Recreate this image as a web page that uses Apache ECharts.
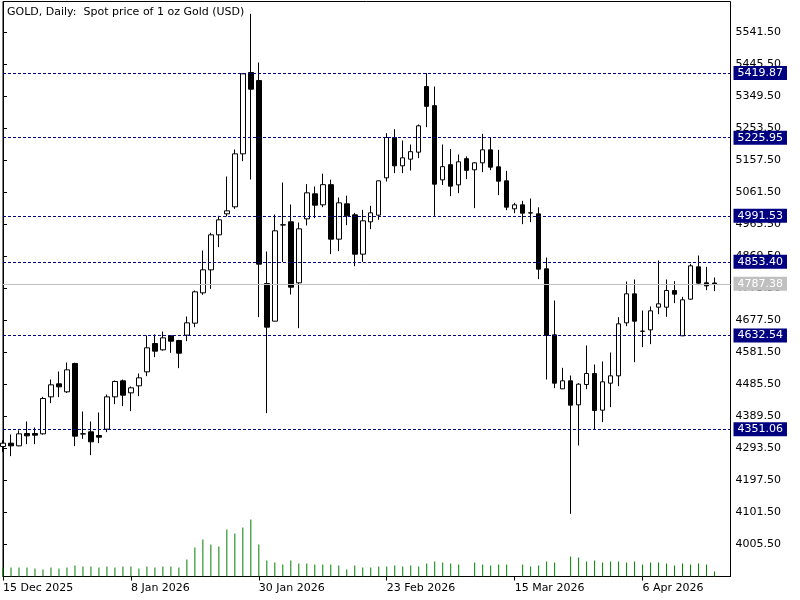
<!DOCTYPE html>
<html>
<head>
<meta charset="utf-8">
<script src="https://cdn.jsdelivr.net/npm/echarts@6/dist/echarts.min.js"></script>
<style>
html, body { margin: 0; background: #fff; }
#main { width: 800px; height: 600px; }
</style>
</head>
<body>
<div id="main"></div>
<script>
// GOLD daily bars, 15 Dec 2025 .. Apr 2026
var opens = [4299.5, 4309.5, 4301.5, 4338.5, 4338.5, 4337.5, 4448.5, 4487.5, 4463.5, 4548.5,
  4337.5, 4343.5, 4332.5, 4351.5, 4448.5, 4496.5, 4460.5, 4481.5, 4523.5, 4608.5,
  4589.5, 4631.5, 4617.5, 4633.5, 4669.5, 4760.5, 4829.5, 4934.5, 4997.5, 5018.5,
  5177.5, 5421.5, 5397.5, 4788.5, 4675.5, 4964.5, 4973.5, 4790.5, 4982.5, 5057.5,
  5024.5, 5085, 4921.5, 5027.5, 4994.5, 4876.5, 4973.5, 4993.5, 5105.5, 5226.5,
  5141.5, 5161.5, 5182.5, 5379.5, 5322, 5099.5, 5145, 5084.5, 5163, 5129.5,
  5150.5, 5189.5, 5138.5, 5096.5, 5012.5, 5024.5, 5000.5, 4997.5, 4832.5, 4634.5,
  4472.5, 4496.5, 4424.5, 4485.5, 4518.5, 4408.5, 4489.5, 4511.5, 4670.5, 4757.5,
  4645.5, 4649.5, 4717.5, 4717.5, 4767.5, 4631.5, 4741.5, 4838.5, 4790.5, 4790];
var highs = [4318, 4335.5, 4348, 4374.5, 4356.5, 4448.5, 4500.5, 4524.5, 4551.5, 4551,
  4404.5, 4374.5, 4401.5, 4455.5, 4497.5, 4500.5, 4479.5, 4518.5, 4632.5, 4635.5,
  4644.5, 4632.5, 4619.5, 4689.5, 4767.5, 4887.5, 4940.5, 4991.5, 5109.5, 5190.5,
  5419, 5597.5, 5451.5, 4884.5, 4995.5, 5091.5, 5025.5, 4971.5, 5086.5, 5079.5,
  5118, 5100, 5046.5, 5052, 5000.5, 5009.5, 5021.5, 5097, 5239.5, 5251.5,
  5217.5, 5205.5, 5265.5, 5419.5, 5379.5, 5205.5, 5192, 5175.5, 5170, 5152.5,
  5237.5, 5225.5, 5189.5, 5126.5, 5030.5, 5036.5, 5043.5, 5017, 4866.5, 4737.5,
  4535.5, 4512.5, 4489.5, 4602.5, 4545.5, 4554.5, 4581.5, 4687.5, 4794.5, 4800.5,
  4707.5, 4719.5, 4857.5, 4800.5, 4795.5, 4748.5, 4847.5, 4872.5, 4838.5, 4806.5];
var lows = [4283, 4270.5, 4300, 4306.5, 4306.5, 4335, 4429.5, 4447.5, 4460, 4300.5,
  4322.5, 4273.5, 4309.5, 4342.5, 4426.5, 4420.5, 4405.5, 4450.5, 4510.5, 4567.5,
  4587, 4580.5, 4534.5, 4615.5, 4657.5, 4754.5, 4772.5, 4897.5, 4989.5, 5012.5,
  5155.5, 5100.5, 4687.5, 4399.5, 4675, 4852.5, 4755.5, 4654.5, 4962.5, 4984.5,
  5017.5, 4876.5, 4885.5, 4963.5, 4840.5, 4853.5, 4951.5, 4979.5, 5094.5, 5119.5,
  5119.5, 5127.5, 5164.5, 5257.5, 4991.5, 5084, 5050.5, 5059.5, 5101.5, 5014.5,
  5122.5, 5128.5, 5053.5, 5008.5, 4999.5, 4966.5, 4972.5, 4801.5, 4500.5, 4474.5,
  4472, 4097.5, 4302.5, 4471.5, 4349.5, 4372.5, 4417.5, 4480.5, 4660.5, 4552.5,
  4597.5, 4606.5, 4696.5, 4688.5, 4729.5, 4631, 4740, 4783.5, 4768.5, 4765.5];
var closes = [4309.5, 4301.5, 4337.5, 4331.5, 4333.5, 4443.5, 4484.5, 4478.5, 4529.5, 4330.5,
  4337, 4313.5, 4327.5, 4448.5, 4494.5, 4453.5, 4475.5, 4505.5, 4595.5, 4585.5,
  4625.5, 4615.5, 4579.5, 4670.5, 4763.5, 4829.5, 4934.5, 4979.5, 5006.5, 5177.5,
  5417.5, 5371.5, 4846.5, 4657.5, 4946.5, 4964, 4777.5, 4952.5, 5060.5, 5023.5,
  5085, 4921.5, 5030.5, 4991.5, 4876.5, 4976.5, 5000.5, 5096.5, 5226.5, 5141.5,
  5165.5, 5184, 5261.5, 5320, 5086.5, 5139, 5080.5, 5153.5, 5128, 5150.5,
  5189.5, 5137.5, 5095.5, 5017.5, 5024.5, 4999.5, 5000, 4831.5, 4632.5, 4489.5,
  4496.5, 4423.5, 4486.5, 4518.5, 4407.5, 4493.5, 4511.5, 4667.5, 4757.5, 4675.5,
  4645, 4706.5, 4727.5, 4767.5, 4756.5, 4739.5, 4841.5, 4789.5, 4781.5, 4787.38];
// tick volume, thousands
var volumes = [9, 9, 9, 9, 8, 7, 9, 8, 9, 11,
  10, 10, 9, 10, 9, 10, 10, 8, 10, 9,
  10, 10, 9, 17, 29, 37, 32, 30, 47, 43,
  49, 57, 32, 16, 14, 12, 16, 13, 13, 12,
  12, 12, 11, 7, 11, 9, 9, 10, 10, 11,
  10, 11, 10, 13, 15, 14, 13, 12, 0, 14,
  12, 11, 12, 12, 0, 12, 10, 11, 15, 14,
  0, 20, 19, 15, 16, 14, 15, 15, 14, 15,
  12, 14, 14, 13, 11, 13, 12, 13, 12, 5];

var tickBars = [0, 16, 32, 48, 64, 80];
var tickLabels = ['15 Dec 2025', '8 Jan 2026', '30 Jan 2026', '23 Feb 2026', '15 Mar 2026', '6 Apr 2026'];
var priceTicks = [4005.5, 4101.5, 4197.5, 4293.5, 4389.5, 4485.5, 4581.5, 4677.5, 4773.5,
  4869.5, 4965.5, 5061.5, 5157.5, 5253.5, 5349.5, 5445.5, 5541.5];
var levels = [5419.87, 5225.95, 4991.53, 4853.40, 4632.54, 4351.06];
var lastPrice = 4787.38;

var FONT = 'DejaVu Sans';

var candles = opens.map(function (o, i) {
  return [i, o, closes[i], lows[i], highs[i]];
});
var vols = volumes.map(function (v, i) { return [i, v]; });

function levelLine(v, color, type, bg) {
  return {
    yAxis: v,
    lineStyle: { color: color, type: type, width: 1 },
    label: {
      show: true,
      position: 'end',
      distance: 3,
      formatter: function () { return v.toFixed(2); },
      color: '#fff',
      backgroundColor: bg,
      padding: [1, 4, 1, 4],
      lineHeight: 12,
      fontFamily: FONT,
      fontSize: 11
    }
  };
}

var lines = levels.map(function (v) { return levelLine(v, '#000080', [3, 2], '#000080'); });
lines.push(levelLine(lastPrice, '#c0c0c0', 'solid', '#c0c0c0'));

var myChart = echarts.init(document.getElementById('main'));
myChart.setOption({
  animation: false,
  backgroundColor: '#fff',
  title: {
    text: 'GOLD, Daily:  Spot price of 1 oz Gold (USD)',
    left: 7,
    top: 7,
    padding: 0,
    textStyle: { fontFamily: FONT, fontSize: 11, fontWeight: 'normal', color: '#000' }
  },
  grid: {
    left: 2.5, right: 69.5, top: 1.5, bottom: 23.5,
    show: true, borderColor: '#000', borderWidth: 1, backgroundColor: 'transparent'
  },
  xAxis: {
    type: 'value',
    min: 0,
    max: 91,
    axisLine: { show: true, lineStyle: { color: '#000', width: 1 } },
    axisTick: { show: true, customValues: tickBars, length: 4, lineStyle: { color: '#000' } },
    axisLabel: {
      customValues: tickBars,
      formatter: function (v) { return tickLabels[tickBars.indexOf(v)] || ''; },
      align: 'left',
      margin: 6,
      color: '#000',
      fontFamily: FONT,
      fontSize: 11
    },
    splitLine: { show: false }
  },
  yAxis: [{
    type: 'value',
    position: 'right',
    min: 3909.5,
    max: 5634.5,
    axisLine: { show: true, lineStyle: { color: '#000', width: 1 } },
    axisTick: { show: true, customValues: priceTicks, length: 4, lineStyle: { color: '#000' } },
    axisLabel: {
      customValues: priceTicks,
      formatter: function (v) { return v.toFixed(2); },
      margin: 5,
      color: '#000',
      fontFamily: FONT,
      fontSize: 11
    },
    splitLine: { show: false }
  }, {
    type: 'value',
    show: false,
    min: 0,
    max: 575,
    splitLine: { show: false }
  }],
  series: [{
    type: 'bar',
    name: 'volume',
    yAxisIndex: 1,
    data: vols,
    barWidth: 1,
    itemStyle: { color: '#008000' },
    z: 1
  }, {
    type: 'line',
    name: 'levels',
    data: [],
    z: 1,
    markLine: {
      silent: true,
      symbol: 'none',
      animation: false,
      data: lines
    }
  }, {
    type: 'candlestick',
    name: 'GOLD',
    data: candles,
    encode: { x: 0, y: [1, 2, 3, 4] },
    barWidth: 5,
    z: 3,
    itemStyle: {
      color: '#fff',
      color0: '#000',
      borderColor: '#000',
      borderColor0: '#000',
      borderColorDoji: '#000',
      borderWidth: 1
    }
  }]
});
window.addEventListener('resize', function () {
  myChart.resize();
});
</script>
</body>
</html>
